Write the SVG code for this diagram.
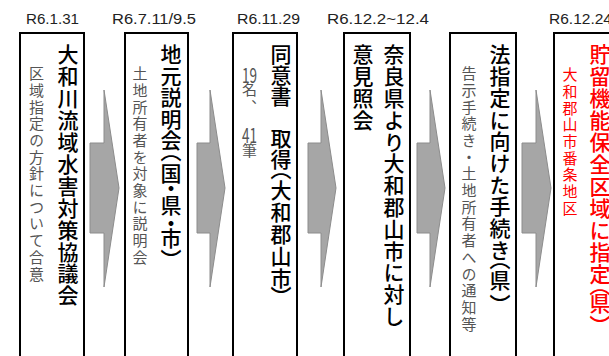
<svg xmlns="http://www.w3.org/2000/svg" width="609" height="356" viewBox="0 0 609 356">
<style>
.box{fill:#fff;stroke:#000;stroke-width:2}
.date{font-family:"Liberation Sans","Noto Sans CJK JP",sans-serif;font-size:15.5px;fill:#222}
.v{writing-mode:vertical-rl;font-family:"Noto Sans CJK JP",sans-serif}
.main{font-size:21px;font-weight:500;fill:#000}
.sub{font-size:15px;letter-spacing:1.7px;fill:#555}
.red{fill:#ff0000}
.h{font-family:"Noto Sans CJK JP",sans-serif;fill:#555;text-anchor:middle}
.arrow{fill:#a6a6a6;stroke:#8c8c8c;stroke-width:1}
</style>
<rect width="609" height="356" fill="#fff"/>
<g id="connectors">
<polygon class="arrow" points="90,143 104,143 104,90 119,188 104,287 104,233 90,233"/>
<polygon class="arrow" points="197,143 210,143 210,90 225,188 210,287 210,233 197,233"/>
<polygon class="arrow" points="308,143 321,143 321,90 336,188 321,287 321,233 308,233"/>
<polygon class="arrow" points="417,143 430,143 430,90 445,188 430,287 430,233 417,233"/>
<polygon class="arrow" points="522,143 536,143 536,90 551,188 536,287 536,233 522,233"/>
</g>
<g id="node1">
<text class="date" x="26" y="24" textLength="53" lengthAdjust="spacingAndGlyphs">R6.1.31</text>
<rect class="box" x="20" y="33" width="64" height="330"/>
<text class="v main" x="68" y="44" letter-spacing="0.9">大和川流域水害対策協議会</text>
<text class="v sub" x="36.5" y="66">区域指定の方針について合意</text>
</g>
<g id="node2">
<text class="date" x="112" y="24" textLength="84" lengthAdjust="spacingAndGlyphs">R6.7.11/9.5</text>
<rect class="box" x="125" y="33" width="63" height="330"/>
<g class="v main">
<text x="171" y="44" letter-spacing="0.5">地元説明会</text>
<text x="171" y="140.5">（</text>
<text x="171" y="163">国</text>
<text x="171" y="177.5">・</text>
<text x="171" y="195">県</text>
<text x="171" y="212.5">・</text>
<text x="171" y="228">市</text>
<text x="171" y="249">）</text>
</g>
<text class="v sub" x="140" y="66">土地所有者を対象に説明会</text>
</g>
<g id="node3">
<text class="date" x="237" y="24" textLength="63" lengthAdjust="spacingAndGlyphs">R6.11.29</text>
<rect class="box" x="233" y="33" width="64" height="330"/>
<g class="v main">
<text x="281" y="44">同意書　取得</text>
<text x="281" y="158.5">（</text>
<text x="281" y="180" letter-spacing="1">大和郡山市</text>
<text x="281" y="286">）</text>
</g>
<text class="h" x="249.5" y="83" font-size="20" textLength="15" lengthAdjust="spacingAndGlyphs">19</text>
<text class="v sub" x="249.5" y="82">名、</text>
<text class="h" x="249.5" y="143" font-size="20" textLength="15" lengthAdjust="spacingAndGlyphs">41</text>
<text class="v sub" x="249.5" y="143">筆</text>
</g>
<g id="node4">
<text class="date" x="327" y="24" textLength="102" lengthAdjust="spacingAndGlyphs">R6.12.2~12.4</text>
<rect class="box" x="344" y="33" width="66" height="330"/>
<text class="v main" x="394" y="44" letter-spacing="0.8">奈良県より大和郡山市に対し</text>
<text class="v main" x="363" y="44" letter-spacing="0.8">意見照会</text>
</g>
<g id="node5">
<rect class="box" x="450" y="33" width="66" height="330"/>
<g class="v main">
<text x="500" y="44" letter-spacing="0.7">法指定に向けた手続き</text>
<text x="500" y="248.5">（</text>
<text x="500" y="270">県</text>
<text x="500" y="294">）</text>
</g>
<text class="v sub" x="469" y="66">告示手続き・土地所有者への通知等</text>
</g>
<g id="node6">
<text class="date" x="549" y="24" textLength="63" lengthAdjust="spacingAndGlyphs">R6.12.24</text>
<rect class="box" x="554" y="33" width="70" height="330"/>
<g class="v main red">
<text x="600" y="44" letter-spacing="1">貯留機能保全区域に指定</text>
<text x="600" y="275">（</text>
<text x="600" y="293">県</text>
<text x="600" y="315">）</text>
</g>
<text class="v sub red" x="570" y="67">大和郡山市番条地区</text>
</g>
</svg>
